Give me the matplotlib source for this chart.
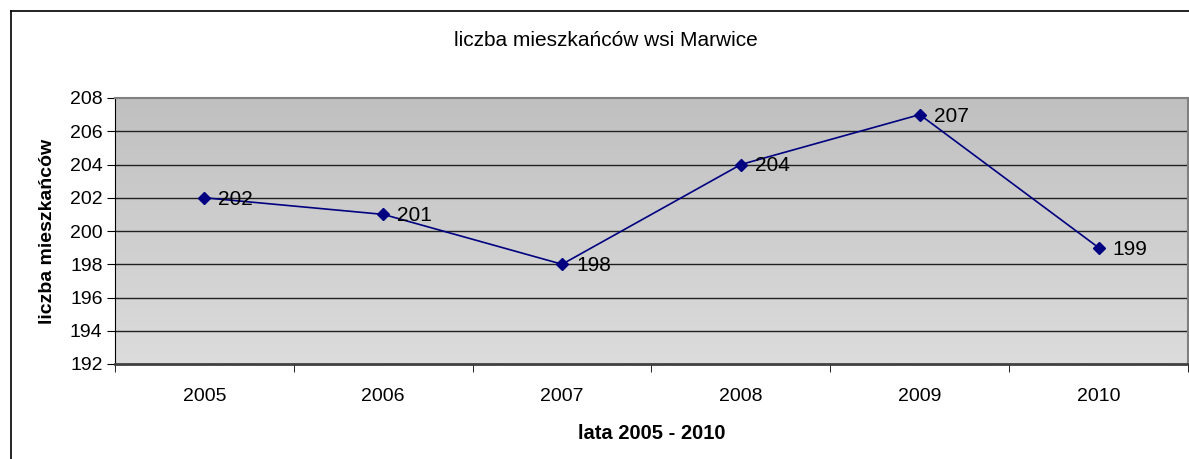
import matplotlib
matplotlib.use("Agg")
import matplotlib.pyplot as plt
import numpy as np
from matplotlib.colors import LinearSegmentedColormap

years = ["2005", "2006", "2007", "2008", "2009", "2010"]
values = [202, 201, 198, 204, 207, 199]
yticks = [192, 194, 196, 198, 200, 202, 204, 206, 208]

plt.rcParams['font.family'] = ['Liberation Sans', 'DejaVu Sans']

fig = plt.figure(figsize=(11.89, 4.59), dpi=100)
ax = fig.add_axes([115/1189, 1 - 364/459, (1188-115)/1189, (364-98)/459])

# gradient background
cmap = LinearSegmentedColormap.from_list("g", ["#c0c0c0", "#dcdcdc"])
grad = np.linspace(0, 1, 256).reshape(-1, 1)
ax.imshow(grad, aspect='auto', cmap=cmap, extent=[0, 1, 0, 1],
          transform=ax.transAxes, zorder=0, origin='upper')

x = np.arange(len(years))
ax.plot(x, values, color='#000080', lw=1.2, marker='D', markersize=6,
        markerfacecolor='#000080', markeredgecolor='#000080', zorder=3)
for xi, v in zip(x, values):
    ax.annotate(str(v), (xi, v), xytext=(10, -1), textcoords='offset points',
                ha='left', va='center', fontsize=15, color='black', zorder=4)

ax.set_xlim(-0.5, len(years) - 0.5)
ax.set_ylim(192, 208)
ax.set_yticks(yticks)
ax.set_yticklabels([str(t) for t in yticks], fontsize=14)
ax.set_xticks(x)
ax.set_xticklabels(years, fontsize=14)
ax.set_xticks(np.arange(-0.5, len(years)), minor=True)
ax.tick_params(axis='x', which='major', length=0, pad=17)
ax.tick_params(axis='x', which='minor', length=6, direction='out', color='black')
ax.tick_params(axis='y', length=6, direction='out', color='black', pad=3)

for t in yticks[1:-1]:
    ax.axhline(t, color='#202020', lw=1.0, zorder=1)

for s in ['top', 'right']:
    ax.spines[s].set_color('#808080')
    ax.spines[s].set_linewidth(1.5)
ax.spines['left'].set_color('black')
ax.spines['bottom'].set_color('#404040')
ax.spines['bottom'].set_linewidth(2)

ax.set_ylabel("liczba mieszkańców", fontsize=14, fontweight='bold', labelpad=10)
ax.set_xlabel("lata 2005 - 2010", fontsize=14.5, fontweight='bold', labelpad=14)

fig.text(606/1189, 1 - 40/459, "liczba mieszkańców wsi Marwice", ha='center',
         va='center', fontsize=15)

# outer frame (left and top visible)
fig.add_artist(plt.Line2D([11/1189, 11/1189], [0, 1 - 11/459], color='black', lw=1.2,
                          transform=fig.transFigure))
fig.add_artist(plt.Line2D([11/1189, 1], [1 - 11/459, 1 - 11/459], color='black', lw=1.2,
                          transform=fig.transFigure))

fig.savefig("out.png", dpi=100)
